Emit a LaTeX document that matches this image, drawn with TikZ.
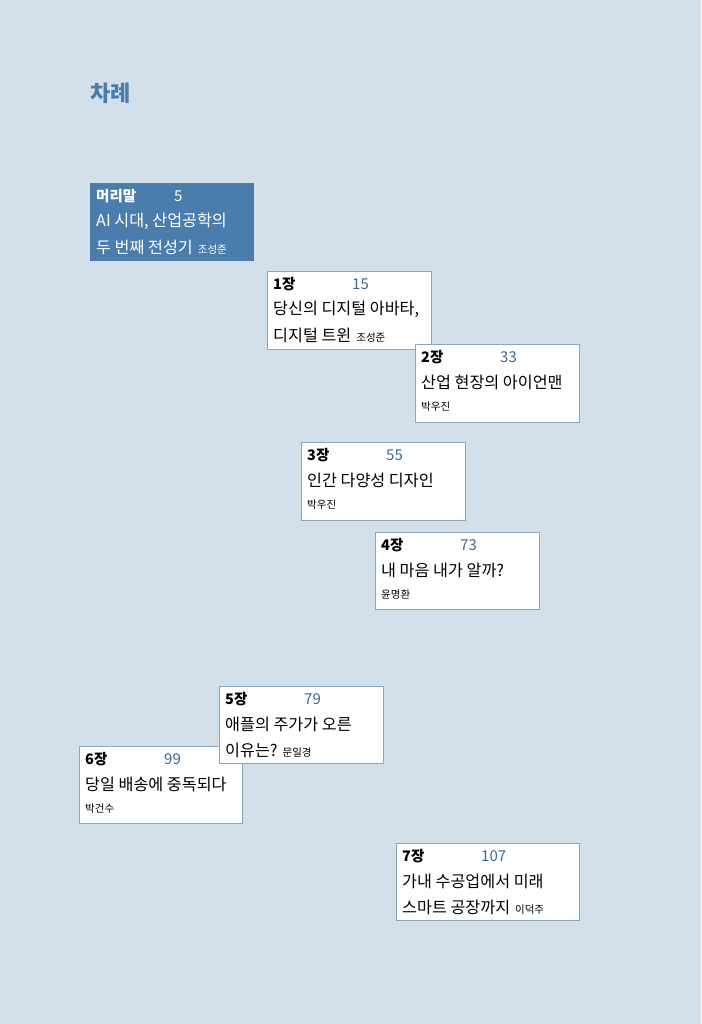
\documentclass[tikz,border=0pt]{standalone}
\usepackage{fontspec}
\setmainfont{Noto Sans CJK KR}
\definecolor{bgblue}{HTML}{D3E0EA}
\definecolor{steel}{HTML}{4A7DAB}
\definecolor{numblue}{HTML}{3D6A90}
\definecolor{edgeblue}{HTML}{8DA6BC}
\newcommand{\auth}[1]{\hspace{5pt}{\fontsize{10.5}{12}\selectfont #1}}

\begin{document}
\begin{tikzpicture}[x=1pt,y=1pt,
  card/.style={draw=edgeblue, fill=white, rectangle, anchor=north west, minimum width=164pt, minimum height=78pt, inner sep=0pt},
  head/.style={anchor=west, inner sep=0pt, font=\fontsize{14.5}{17}\bfseries},
  num/.style={anchor=west, inner sep=0pt, text=numblue, font=\fontsize{15}{17}\selectfont},
  line/.style={anchor=west, inner sep=0pt, font=\fontsize{16.2}{19}\selectfont},
  small/.style={anchor=west, inner sep=0pt, font=\fontsize{10.5}{12}\selectfont}]
    \fill[bgblue] (0,0) rectangle (701,-1024);
    \useasboundingbox (0,0) rectangle (701,-1024);
    \node[anchor=west, inner sep=0pt, text=steel, font=\fontsize{22}{25}\bfseries] (title) at (90,-93) {차례};

    % Preface
    \begin{scope}[shift={(90,-183)}]
    \node[card, fill=steel, draw=steel, minimum width=163pt, minimum height=77pt] (c0) at (0,0) {};
    \node[head, text=white] (c0-h) at (6,-13) {머리말};
    \node[num, text=white] (c0-n) at (84,-13) {5};
    \node[line, text=white] (c0-a) at (6,-38) {AI 시대, 산업공학의};
    \node[line, text=white] (c0-b) at (6,-64) {두 번째 전성기\auth{조성준}};
    \end{scope}

    % Chapter 1
    \begin{scope}[shift={(267,-271)}]
    \node[card] (c1) at (0,0) {};
    \node[head] (c1-h) at (6,-13) {1장};
    \node[num] (c1-n) at (85,-13) {15};
    \node[line] (c1-a) at (6,-38) {당신의 디지털 아바타,};
    \node[line] (c1-b) at (6,-64) {디지털 트윈\auth{조성준}};
    \end{scope}

    % Chapter 2
    \begin{scope}[shift={(415,-344)}]
    \node[card] (c2) at (0,0) {};
    \node[head] (c2-h) at (6,-13) {2장};
    \node[num] (c2-n) at (85,-13) {33};
    \node[line] (c2-a) at (6,-38) {산업 현장의 아이언맨};
    \node[small] (c2-b) at (6,-63) {박우진};
    \end{scope}

    % Chapter 3
    \begin{scope}[shift={(301,-442)}]
    \node[card] (c3) at (0,0) {};
    \node[head] (c3-h) at (6,-13) {3장};
    \node[num] (c3-n) at (85,-13) {55};
    \node[line] (c3-a) at (6,-38) {인간 다양성 디자인};
    \node[small] (c3-b) at (6,-63) {박우진};
    \end{scope}

    % Chapter 4
    \begin{scope}[shift={(375,-532)}]
    \node[card, minimum height=77pt] (c4) at (0,0) {};
    \node[head] (c4-h) at (6,-13) {4장};
    \node[num] (c4-n) at (85,-13) {73};
    \node[line] (c4-a) at (6,-38) {내 마음 내가 알까?};
    \node[small] (c4-b) at (6,-63) {윤명환};
    \end{scope}

    % Chapter 6 (under chapter 5)
    \begin{scope}[shift={(79,-746)}]
    \node[card, minimum width=163pt, minimum height=77pt] (c6) at (0,0) {};
    \node[head] (c6-h) at (6,-13) {6장};
    \node[num] (c6-n) at (85,-13) {99};
    \node[line] (c6-a) at (6,-38) {당일 배송에 중독되다};
    \node[small] (c6-b) at (6,-63) {박건수};
    \end{scope}

    % Chapter 5
    \begin{scope}[shift={(219,-686)}]
    \node[card, minimum height=77pt] (c5) at (0,0) {};
    \node[head] (c5-h) at (6,-13) {5장};
    \node[num] (c5-n) at (85,-13) {79};
    \node[line] (c5-a) at (6,-38) {애플의 주가가 오른};
    \node[line] (c5-b) at (6,-64) {이유는?\auth{문일경}};
    \end{scope}

    % Chapter 7
    \begin{scope}[shift={(396,-843)}]
    \node[card, minimum width=183pt, minimum height=77pt] (c7) at (0,0) {};
    \node[head] (c7-h) at (6,-13) {7장};
    \node[num] (c7-n) at (85,-13) {107};
    \node[line] (c7-a) at (6,-38) {가내 수공업에서 미래};
    \node[line] (c7-b) at (6,-64) {스마트 공장까지\auth{이덕주}};
    \end{scope}

\end{tikzpicture}
\end{document}
